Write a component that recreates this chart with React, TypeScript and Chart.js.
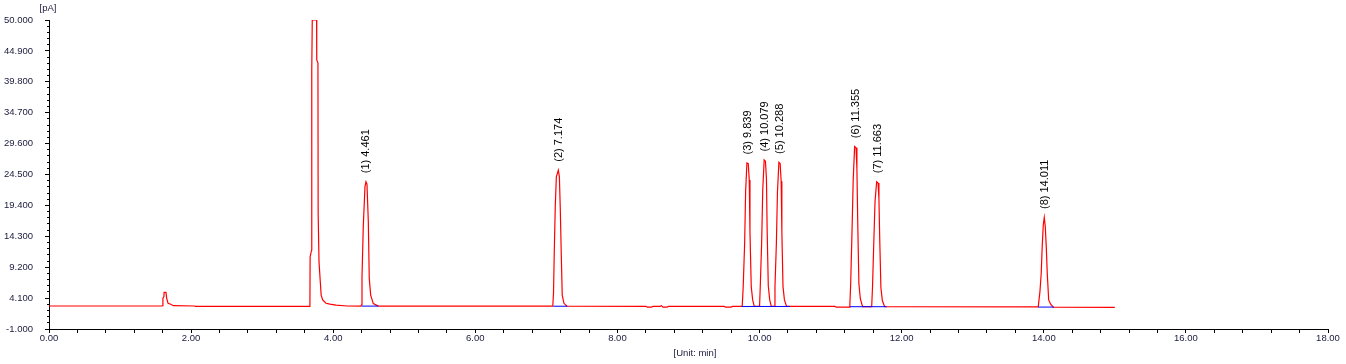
import { useEffect, useRef } from 'react';
import { Chart, registerables } from 'chart.js';

Chart.register(...registerables);

// Chromatogram trace (time in min, signal in pA)
const traceTime = [
  0.0, 1.59, 1.6, 1.603, 1.617, 1.62, 1.646, 1.656, 1.675, 1.713, 1.749, 2.05, 2.06,
  3.66, 3.672, 3.675, 3.695, 3.698, 3.705, 3.766, 3.768, 3.785, 3.788, 3.8, 3.818, 3.83, 3.852, 3.898, 3.954, 4.04, 4.194,
  4.39, 4.4, 4.405, 4.423, 4.447, 4.461, 4.475, 4.494, 4.507, 4.527, 4.564, 4.634,
  7.09, 7.1, 7.111, 7.125, 7.14, 7.168, 7.183, 7.196, 7.209, 7.223, 7.247, 7.29,
  8.4, 8.42, 8.48, 8.5, 8.6, 8.62, 8.64, 8.7, 8.72, 9.5, 9.52, 9.6, 9.62, 9.75,
  9.756, 9.77, 9.79, 9.804, 9.822, 9.841, 9.855, 9.865, 9.883, 9.903, 9.925,
  10.0, 10.01, 10.03, 10.045, 10.065, 10.083, 10.097, 10.107, 10.123, 10.143, 10.165,
  10.207, 10.217, 10.237, 10.252, 10.272, 10.29, 10.304, 10.314, 10.33, 10.35, 10.38,
  11.06, 11.08, 11.26, 11.27, 11.282, 11.3, 11.318, 11.338, 11.358, 11.37, 11.382, 11.398, 11.418, 11.45,
  11.578, 11.59, 11.607, 11.625, 11.648, 11.668, 11.68, 11.692, 11.708, 11.728, 11.76,
  13.922, 13.946, 13.964, 13.978, 13.993, 14.007, 14.021, 14.035, 14.049, 14.069, 14.097, 14.133,
  15.0,
];
const traceSignal = [
  2.8, 2.8, 2.85, 4.1, 4.3, 5.05, 5.05, 4.1, 3.25, 3.08, 2.85, 2.8, 2.72,
  2.72, 3.2, 10.9, 12.0, 41.7, 50.0, 50.0, 43.4, 42.9, 18.1, 10.1, 6.8, 4.6, 3.8, 3.25, 3.1, 2.95, 2.8,
  2.78, 3.0, 7.6, 15.9, 22.5, 23.3, 22.9, 16.7, 7.4, 4.6, 3.2, 2.78,
  2.76, 4.9, 11.76, 19.2, 24.1, 25.2, 24.1, 18.6, 11.5, 4.6, 3.24, 2.76,
  2.75, 2.62, 2.62, 2.75, 2.75, 2.85, 2.62, 2.62, 2.75, 2.75, 2.62, 2.62, 2.72, 2.72,
  2.75, 6.0, 13.1, 21.7, 26.4, 26.3, 23.6, 15.1, 6.0, 3.8, 2.75,
  2.72, 6.0, 13.5, 22.0, 26.9, 26.7, 23.8, 15.2, 6.1, 3.8, 2.72,
  2.72, 6.0, 13.2, 21.6, 26.5, 26.3, 23.4, 15.0, 6.0, 3.8, 2.72,
  2.72, 2.6, 2.6, 2.7, 6.3, 14.5, 23.6, 29.1, 28.9, 25.5, 16.5, 6.5, 4.0, 2.7,
  2.68, 6.0, 13.0, 20.0, 23.3, 23.1, 20.5, 13.5, 5.8, 3.7, 2.68,
  2.65, 5.16, 8.2, 12.6, 16.2, 17.4, 15.9, 12.6, 8.2, 3.8, 3.1, 2.62,
  2.58,
];

// Integrated peaks
const peakNames = ['(1) 4.461', '(2) 7.174', '(3) 9.839', '(4) 10.079', '(5) 10.288', '(6) 11.355', '(7) 11.663', '(8) 14.011'];
const peakTimes = [4.461, 7.174, 9.839, 10.079, 10.288, 11.355, 11.663, 14.011];
const peakHeights = [23.3, 25.2, 26.4, 26.9, 26.5, 29.1, 23.3, 17.4];

// Integration baselines (blue)
const baselineStart = [4.4, 7.097, 9.748, 11.272, 13.922];
const baselineEnd = [4.634, 7.294, 10.428, 11.789, 14.143];
const baselineLevel = [2.78, 2.76, 2.72, 2.68, 2.62];

// Axes
const yTickValues = [-1, 4.1, 9.2, 14.3, 19.4, 24.5, 29.6, 34.7, 39.8, 44.9, 50];
const yTickLabels = ['-1.000', '4.100', '9.200', '14.300', '19.400', '24.500', '29.600', '34.700', '39.800', '44.900', '50.000'];
const xTickValues = [0, 2, 4, 6, 8, 10, 12, 14, 16, 18];
const xTickLabels = ['0.00', '2.00', '4.00', '6.00', '8.00', '10.00', '12.00', '14.00', '16.00', '18.00'];
const minorPerMajor = 5;
const yTitle = '[pA]';
const xTitle = '[Unit: min]';

const FONT = '"Liberation Sans", Arial, sans-serif';
const TEXT_COLOR = '#1a1a3c';

const overlay = {
  id: 'overlay',
  afterDraw(chart: any) {
    const ctx = chart.ctx as CanvasRenderingContext2D;
    const xs = chart.scales.x;
    const ys = chart.scales.y;
    const align = (p: number) => Math.round(p - 0.5) + 0.5;
    ctx.save();
    ctx.strokeStyle = '#000';
    ctx.lineWidth = 1;
    ctx.beginPath();
    const axisY = Math.round(ys.getPixelForValue(-1));
    for (let i = 0; i < xTickValues.length - 1; i++) {
      const a = xTickValues[i];
      const b = xTickValues[i + 1];
      for (let k = 1; k < minorPerMajor; k++) {
        const px = align(xs.getPixelForValue(a + ((b - a) * k) / minorPerMajor));
        ctx.moveTo(px, axisY);
        ctx.lineTo(px, axisY + 4);
      }
    }
    const axisX = Math.round(xs.getPixelForValue(0));
    for (let i = 0; i < yTickValues.length - 1; i++) {
      const a = yTickValues[i];
      const b = yTickValues[i + 1];
      for (let k = 1; k < minorPerMajor; k++) {
        const py = align(ys.getPixelForValue(a + ((b - a) * k) / minorPerMajor));
        ctx.moveTo(axisX - 2, py);
        ctx.lineTo(axisX, py);
      }
    }
    ctx.stroke();

    ctx.fillStyle = TEXT_COLOR;
    ctx.font = `9.5px ${FONT}`;
    ctx.textAlign = 'center';
    ctx.textBaseline = 'middle';
    ctx.fillText(yTitle, 48, 8);
    ctx.fillText(xTitle, 695, 353);

    ctx.fillStyle = '#000';
    ctx.font = `11px ${FONT}`;
    ctx.textAlign = 'left';
    ctx.textBaseline = 'middle';
    for (let i = 0; i < peakNames.length; i++) {
      const px = xs.getPixelForValue(peakTimes[i]);
      const py = ys.getPixelForValue(peakHeights[i]) - 8.5;
      ctx.save();
      ctx.translate(px, py);
      ctx.rotate(-Math.PI / 2);
      ctx.fillText(peakNames[i], 0, 0);
      ctx.restore();
    }
    ctx.restore();
  },
};

export default function App() {
  const ref = useRef<HTMLCanvasElement>(null);

  useEffect(() => {
    const blueSets = baselineStart.map((s, i) => ({
      data: [
        { x: s, y: baselineLevel[i] },
        { x: baselineEnd[i], y: baselineLevel[i] },
      ],
      borderColor: '#0000ff',
      borderWidth: 1,
      pointRadius: 0,
      tension: 0,
    }));
    const red = {
      data: traceTime.map((t, i) => ({ x: t, y: traceSignal[i] })),
      borderColor: '#ff0000',
      borderWidth: 1.2,
      pointRadius: 0,
      tension: 0,
    };
    const chart = new Chart(ref.current as HTMLCanvasElement, {
      type: 'line',
      data: { datasets: [...blueSets, red] as any },
      plugins: [overlay],
      options: {
        animation: false,
        responsive: false,
        devicePixelRatio: 1,
        layout: { padding: { top: 20, right: 18, left: 0, bottom: 0 } },
        plugins: { legend: { display: false }, tooltip: { enabled: false } },
        scales: {
          x: {
            type: 'linear',
            min: 0,
            max: 18,
            afterBuildTicks: (s: any) => {
              s.ticks = xTickValues.map((v) => ({ value: v }));
            },
            afterFit: (s: any) => {
              s.height = 35;
            },
            ticks: {
              autoSkip: false,
              maxRotation: 0,
              padding: 0,
              color: TEXT_COLOR,
              font: { family: FONT, size: 9.5 },
              callback: (_v: any, i: number) => xTickLabels[i],
            },
            grid: { drawOnChartArea: false, drawTicks: true, tickLength: 4, tickColor: '#000' },
            border: { display: true, color: '#000', width: 1 },
          },
          y: {
            type: 'linear',
            min: -1,
            max: 50,
            afterBuildTicks: (s: any) => {
              s.ticks = yTickValues.map((v) => ({ value: v }));
            },
            afterFit: (s: any) => {
              s.width = 49;
            },
            ticks: {
              autoSkip: false,
              padding: 12,
              color: TEXT_COLOR,
              font: { family: FONT, size: 9.5 },
              callback: (_v: any, i: number) => yTickLabels[i],
            },
            grid: { drawOnChartArea: false, drawTicks: true, tickLength: 4, tickColor: '#000' },
            border: { display: true, color: '#000', width: 1 },
          },
        },
      } as any,
    });
    return () => chart.destroy();
  }, []);

  return (
    <div style={{ position: 'absolute', left: 0, top: 0, width: 1346, height: 364, background: '#fff' }}>
      <canvas ref={ref} width={1346} height={364} style={{ display: 'block' }} />
    </div>
  );
}
